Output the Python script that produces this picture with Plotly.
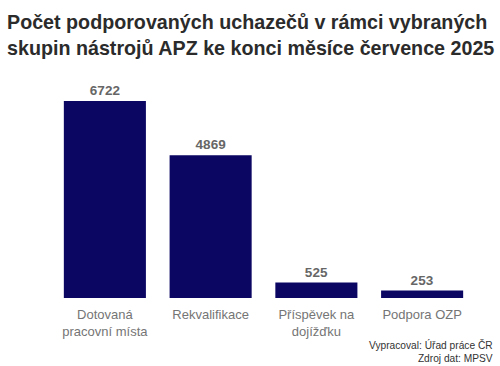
import plotly.graph_objects as go

categories = ["Dotovaná<br>pracovní místa", "Rekvalifikace", "Příspěvek na<br>dojížďku", "Podpora OZP"]
values = [6722, 4869, 525, 253]

fig = go.Figure()
fig.add_trace(go.Bar(
    x=categories, y=values,
    marker=dict(color="#0b0662", line=dict(width=0)),
    text=[str(v) for v in values], textposition="outside",
    textfont=dict(family="Liberation Sans", size=13.5, color="#666666", weight="bold"),
    cliponaxis=False,
))
fig.update_layout(
    width=500, height=366,
    margin=dict(l=52, r=25, t=80, b=68),
    plot_bgcolor="white", paper_bgcolor="white",
    bargap=0.224,
    showlegend=False,
    xaxis=dict(showgrid=False, showline=False, ticks="", ticklabelstandoff=7,
               tickfont=dict(family="Liberation Sans", size=13, color="#757575")),
    yaxis=dict(visible=False, range=[0, 7440]),
    annotations=[
        dict(
            text="<b>Počet podporovaných uchazečů v rámci vybraných<br>skupin nástrojů APZ ke konci měsíce července 2025</b>",
            xref="paper", yref="paper", x=-47/423, y=1 + 71/218, xanchor="left", yanchor="top",
            align="left", showarrow=False,
            font=dict(family="Liberation Sans", size=19.7, color="#2b2b2b"),
        ),
        dict(
            text="Vypracoval: Úřad práce ČR<br>Zdroj dat: MPSV",
            xref="paper", yref="paper", x=1 + 20/423, y=-39/218, xanchor="right", yanchor="top",
            align="right", showarrow=False,
            font=dict(family="Liberation Sans", size=10.2, color="#333333"),
        ),
    ],
)
fig.write_html("out.html", config={"displayModeBar": False},
               post_script="document.body.style.margin='0';document.body.style.overflow='hidden';")
